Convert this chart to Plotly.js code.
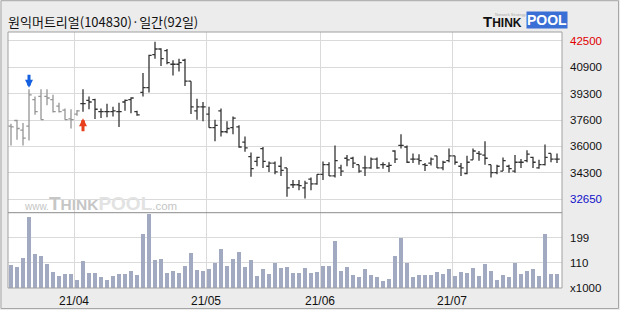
<!DOCTYPE html>
<html>
<head>
<meta charset="utf-8">
<script src="https://cdn.plot.ly/plotly-3.0.1.min.js"></script>
<style>html,body{margin:0;padding:0;background:#ececec;}#chart{width:620px;height:310px;}</style>
</head>
<body>
<div id="chart"></div>
<script>
// ---- data ----
const dates = [
 '2021-03-17','2021-03-18','2021-03-19','2021-03-22','2021-03-23','2021-03-24','2021-03-25','2021-03-26','2021-03-29','2021-03-30','2021-03-31',
 '2021-04-01','2021-04-02','2021-04-05','2021-04-06','2021-04-07','2021-04-08','2021-04-09','2021-04-12','2021-04-13','2021-04-14','2021-04-15','2021-04-16','2021-04-19','2021-04-20','2021-04-21','2021-04-22','2021-04-23','2021-04-26','2021-04-27','2021-04-28','2021-04-29','2021-04-30',
 '2021-05-03','2021-05-04','2021-05-06','2021-05-07','2021-05-10','2021-05-11','2021-05-12','2021-05-13','2021-05-14','2021-05-17','2021-05-18','2021-05-20','2021-05-21','2021-05-24','2021-05-25','2021-05-26','2021-05-27','2021-05-28','2021-05-31',
 '2021-06-01','2021-06-02','2021-06-03','2021-06-04','2021-06-07','2021-06-08','2021-06-09','2021-06-10','2021-06-11','2021-06-14','2021-06-15','2021-06-16','2021-06-17','2021-06-18','2021-06-21','2021-06-22','2021-06-23','2021-06-24','2021-06-25','2021-06-28','2021-06-29','2021-06-30',
 '2021-07-01','2021-07-02','2021-07-05','2021-07-06','2021-07-07','2021-07-08','2021-07-09','2021-07-12','2021-07-13','2021-07-14','2021-07-15','2021-07-16','2021-07-19','2021-07-20','2021-07-21','2021-07-22','2021-07-23','2021-07-26'
];
const openP = [37200,37550,36950,37200,38850,39050,39050,38850,38450,38200,37650,37950,38600,38800,38850,38100,38100,38100,38100,38700,38850,38100,
 39300,39600,41650,42000,41900,41050,41050,41300,40000,38150,38400,37950,37100,38150,36850,37100,37150,36200,35300,35000,35800,34700,34900,34700,
 34600,33550,33550,33350,33900,33600,34200,34800,34100,34600,35200,35200,34800,34600,34600,35150,34800,34700,35650,36000,35900,35150,35150,
 34800,34900,35350,34600,35050,35350,34700,34250,35100,35500,35400,34800,34300,34400,34700,34400,34950,35050,35250,34600,34800,35500,35150];
const highP = [37350,37600,37400,39500,39050,39500,39500,39150,38650,38300,38250,38200,39500,39050,38900,38300,38600,38400,38650,38850,39000,38150,
 40500,41650,42450,42050,42000,41300,41400,41400,40000,38900,38700,38400,37600,38300,37500,37800,37250,36550,35550,35300,35900,35000,35000,35300,
 34600,33850,33850,33800,34000,34200,35000,34950,36000,34800,35400,35300,34800,35350,35250,35250,34950,34950,35700,36700,36000,35500,35450,
 34900,35250,35350,35050,35800,35350,34900,35350,35800,35650,36250,34800,34800,35250,34800,35400,35150,35700,35300,35100,36050,35500,35500];
const lowP = [36000,36350,36000,36300,37900,37600,38500,38050,38050,37600,37050,37850,38100,38250,37650,37700,37750,37800,37150,38150,38000,37850,
 39050,39300,41400,40950,41050,40350,40600,39700,37950,37600,37500,37100,36250,36550,36750,36700,35850,35600,34050,34700,34600,34350,34200,34100,
 32800,33350,33200,32700,33200,33550,33850,34100,34000,34100,34700,34600,34300,34100,34550,34550,34550,34350,34900,35800,34900,34900,34800,
 34400,34750,34600,34450,34950,34800,34100,34200,35100,35050,34800,34000,34200,34400,34300,34300,34600,34950,34600,34550,34750,34950,34900];
const closeP = [37150,37050,36450,39150,38100,37600,38950,38100,38100,37600,37600,38150,38600,38700,38250,38100,38100,38150,38100,38800,38950,37900,
 39600,41600,42000,41400,41150,41050,41150,40000,38400,38400,38400,37100,37250,36850,37050,37700,35900,35850,34550,35250,35000,34900,34350,34450,
 33350,33550,33500,33650,33600,34200,34800,34100,35050,34400,35100,34900,34400,34600,35150,34600,34800,34750,35150,36000,34950,35150,35050,
 34750,35150,34600,34950,35350,34950,34600,34950,35650,35450,35200,34300,34700,35050,34550,34950,34950,35450,34950,34800,35250,35150,35150];
const volume = [102,95,127,274,141,134,105,77,63,70,70,48,116,73,73,59,48,63,70,70,80,66,212,283,120,123,73,80,73,98,
 144,84,80,87,109,159,98,123,148,95,120,63,87,70,109,91,95,73,73,91,73,77,98,98,187,80,95,66,59,87,
 66,59,45,52,134,198,109,59,66,66,66,77,70,87,63,77,73,91,63,105,80,48,66,59,109,70,80,87,63,212,70,70];
const priceTickLabels = ['32650','34300','36000','37600','39300','40900','42500'];
const volTickLabels = ['x1000','110','199'];
const volTickVals = [20,110,199];
const monthStarts = ['2021-04-01','2021-05-03','2021-06-01','2021-07-01'];
const monthLabels = ['21/04','21/05','21/06','21/07'];
const sellSignals = [3];
const buySignals = [12];
const grayCount = 12;
const titleText = '원익머트리얼(104830)·일간(92일)';

// ---- build ----
const idx = dates.map((d,i)=>i);
const lo = Number(priceTickLabels[0]), hi = Number(priceTickLabels[priceTickLabels.length-1]);
const step = (hi-lo)/(priceTickLabels.length-1);
const priceTickVals = priceTickLabels.map((t,k)=>lo+k*step);
const priceTickText = priceTickLabels.map((t,k)=>{
  if(k===priceTickLabels.length-1) return '<span style="color:#e00000">'+t+'</span>';
  if(k===0) return '<span style="color:#1010c8">'+t+'</span>';
  return t;
});
const perPx = step/26.37;
const monthTickVals = monthStarts.map(m=>dates.indexOf(m)-0.5);

function ohlcTrace(a,b,color){
  return {type:'ohlc', x:idx.slice(a,b), open:openP.slice(a,b), high:highP.slice(a,b), low:lowP.slice(a,b), close:closeP.slice(a,b),
    increasing:{line:{color:color,width:1.3}}, decreasing:{line:{color:color,width:1.3}},
    tickwidth:0.45, xaxis:'x', yaxis:'y', hoverinfo:'skip'};
}
const traces = [
  ohlcTrace(0,grayCount,'#959595'),
  ohlcTrace(grayCount,dates.length,'#333333'),
  {type:'bar', x:idx, y:volume, xaxis:'x', yaxis:'y2', width:0.68, marker:{color:'#a2aac2', line:{width:0}}, hoverinfo:'skip'}
];

const L=8, R=562, T=32, B=288;
const px = v=>(v-L)/(R-L);
const py = v=>(B-v)/(B-T);
const sep = py(212.7);

const annotations = [];
// shaft (plain thick segment) + head (arrowhead) for each signal
const shaft = {xref:'x', yref:'y', text:'', font:{size:1}, showarrow:true, ax:0, arrowhead:0, arrowwidth:3};
const head = {xref:'x', yref:'y', text:'', font:{size:1}, showarrow:true, ax:0, arrowhead:2, arrowsize:0.5, arrowwidth:3.2};
sellSignals.forEach(i=>{
  annotations.push(Object.assign({}, shaft, {x:i, y:highP[i], ay:-16, arrowcolor:'#1560e0', standoff:4}));
  annotations.push(Object.assign({}, head, {x:i, y:highP[i], ay:-8, arrowcolor:'#1560e0', standoff:1.5}));
});
buySignals.forEach(i=>{
  annotations.push(Object.assign({}, shaft, {x:i, y:lowP[i], ay:21, arrowcolor:'#e8401c', standoff:9}));
  annotations.push(Object.assign({}, head, {x:i, y:lowP[i], ay:13, arrowcolor:'#e8401c', standoff:6.5}));
});
// watermark
annotations.push({xref:'paper', yref:'paper', x:px(22), y:py(203.5), xanchor:'left', yanchor:'middle', showarrow:false,
  text:'<span style="font-size:10px">www.</span><b>T<span style="font-size:15.5px">HINK</span></b><b><span style="color:#e2e2e2">POOL</span></b><span style="font-size:11.5px">.com</span>',
  font:{family:'Liberation Sans', size:19, color:'#c6c6c6'}});
// logo
annotations.push({xref:'paper', yref:'paper', x:px(481), y:py(21), xanchor:'left', yanchor:'middle', showarrow:false,
  text:'<b>T<span style="font-size:12px">HINK</span></b>', font:{family:'Liberation Sans', size:15, color:'#111111'}});
annotations.push({xref:'paper', yref:'paper', x:px(526), y:py(20), xanchor:'left', yanchor:'middle', showarrow:false,
  text:'<b>POOL</b>', font:{family:'Liberation Sans', size:14, color:'#ffffff'}, bgcolor:'#3a6fd6', borderpad:0});
annotations.push({xref:'paper', yref:'paper', x:px(493), y:py(14.5), xanchor:'left', yanchor:'middle', showarrow:false,
  text:'Network Strategy', font:{family:'Liberation Sans', size:4, color:'#aaaaaa'}});

const shapes = [
  {type:'rect', xref:'paper', yref:'paper', x0:px(1), x1:px(618.5), y0:py(308.5), y1:py(0.7), line:{color:'#a6a6a6', width:1}, layer:'below'},
  {type:'rect', xref:'paper', yref:'paper', x0:0, x1:1, y0:0, y1:1, line:{color:'#a0a0a0', width:1}},
  {type:'line', xref:'paper', yref:'paper', x0:0, x1:1, y0:sep, y1:sep, line:{color:'#8c8c8c', width:1}}
];

const tickFont = {family:'Liberation Sans', size:11.5, color:'#111111'};
const layout = {
  width:620, height:310,
  margin:{l:L, r:620-R, t:T, b:310-B, pad:0},
  paper_bgcolor:'#ececec', plot_bgcolor:'#ffffff',
  showlegend:false, bargap:0,
  title:{text:titleText, font:{family:'Noto Sans CJK KR', size:13, color:'#111111'}, xref:'container', x:8/620, xanchor:'left', yref:'container', y:1-22/310, yanchor:'middle'},
  xaxis:{range:[-0.5,(R-L)/6-0.5], anchor:'y2', tickmode:'array', tickvals:monthTickVals, ticktext:monthLabels,
    showgrid:true, gridcolor:'#dadada', gridwidth:1, zeroline:false, showline:false, ticks:'', ticklabelstandoff:4,
    tickfont:{family:'Liberation Sans', size:12, color:'#111111'}, rangeslider:{visible:false}, fixedrange:true},
  yaxis:{domain:[sep,1], range:[lo-(212.7-199.2)*perPx, lo+(199.2-32)*perPx], side:'right', anchor:'x', tickmode:'array',
    tickvals:priceTickVals, ticktext:priceTickText, showgrid:true, gridcolor:'#dadada', zeroline:false, showline:false, ticks:'',
    ticklabelstandoff:7, tickfont:tickFont, fixedrange:true},
  yaxis2:{domain:[0,sep], range:[20,288], side:'right', anchor:'x', tickmode:'array', tickvals:volTickVals, ticktext:volTickLabels,
    showgrid:true, gridcolor:'#dadada', zeroline:false, showline:false, ticks:'', ticklabelstandoff:7, tickfont:tickFont, fixedrange:true},
  annotations:annotations, shapes:shapes
};
Plotly.newPlot('chart', traces, layout, {staticPlot:true, displayModeBar:false});
</script>
</body>
</html>
